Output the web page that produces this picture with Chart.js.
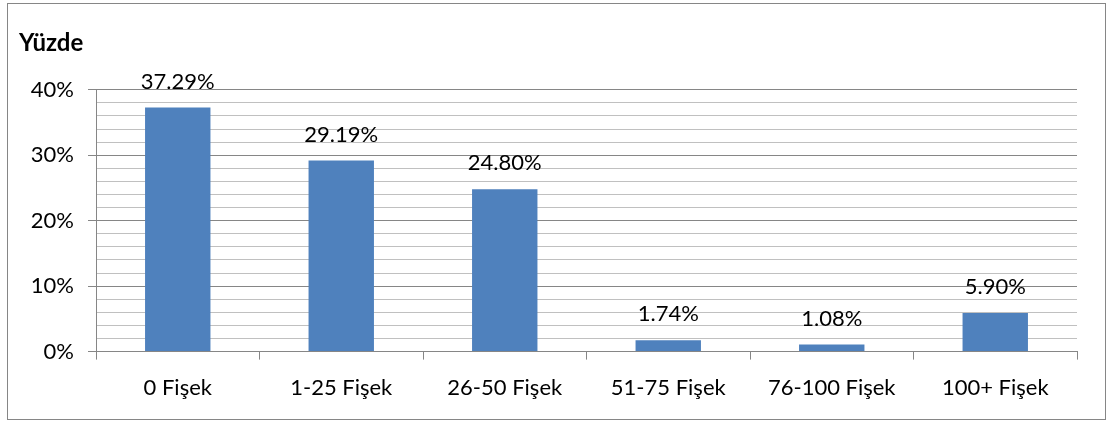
<!DOCTYPE html>
<html>
<head>
<meta charset="utf-8">
<script src="https://cdn.jsdelivr.net/npm/chart.js@4.4.0/dist/chart.umd.min.js"></script>
<style>
    html, body { margin: 0; padding: 0; background: #fff; }
    #box {
        position: absolute; left: 7px; top: 3px;
        width: 1099px; height: 417px;
        box-sizing: border-box;
        border: 1px solid #868686;
    }
</style>
</head>
<body>
<div id="box"><canvas id="myChart"></canvas></div>
<script>
// Data for the bar graph
const categories = ['0 Fişek', '1-25 Fişek', '26-50 Fişek', '51-75 Fişek', '76-100 Fişek', '100+ Fişek'];
const percentages = [37.29, 29.19, 24.80, 1.74, 1.08, 5.90];
const yTicks = [0, 10, 20, 30, 40];

const FONT = 'Lato, "DejaVu Sans", sans-serif';

// draw the value above each bar
const valueLabels = {
    id: 'valueLabels',
    afterDatasetsDraw(chart) {
        const ctx = chart.ctx;
        const meta = chart.getDatasetMeta(0);
        ctx.save();
        ctx.font = '22px ' + FONT;
        ctx.fillStyle = '#000';
        ctx.textAlign = 'center';
        ctx.textBaseline = 'middle';
        meta.data.forEach(function(bar, i) {
            ctx.fillText(percentages[i].toFixed(2) + '%', bar.x, bar.y - 26);
        });
        ctx.restore();
    }
};

const data = {
    labels: categories,
    datasets: [{
        data: percentages,
        backgroundColor: '#4F81BD',
        barPercentage: 0.4,
        categoryPercentage: 1.0
    }]
};

const config = {
    type: 'bar',
    data: data,
    options: {
        responsive: true,
        maintainAspectRatio: false,
        animation: false,
        layout: { padding: { left: 11, right: 28, top: 0, bottom: 3 } },
        plugins: {
            legend: { display: false },
            tooltip: { enabled: false },
            title: {
                display: true,
                text: 'Yüzde',
                align: 'start',
                color: '#000',
                font: { family: FONT, size: 24, weight: 'bold' },
                padding: { top: 25, bottom: 32 }
            }
        },
        scales: {
            x: {
                offset: true,
                border: { color: '#868686', width: 1 },
                grid: {
                    offset: true,
                    drawOnChartArea: false,
                    drawTicks: true,
                    tickLength: 8,
                    color: '#868686'
                },
                ticks: {
                    color: '#000',
                    padding: 15,
                    maxRotation: 0,
                    autoSkip: false,
                    font: { family: FONT, size: 22 }
                }
            },
            y: {
                min: 0,
                max: 40,
                border: { color: '#868686', width: 1 },
                afterFit: function(scale) { scale.width = 77; },
                grid: {
                    tickLength: 8,
                    color: function(c) {
                        return c.tick.value % 10 === 0 ? '#868686' : '#C0C0C0';
                    },
                    tickColor: function(c) {
                        return c.tick.value % 10 === 0 ? '#868686' : 'rgba(0,0,0,0)';
                    }
                },
                ticks: {
                    stepSize: 2,
                    autoSkip: false,
                    padding: 14,
                    color: '#000',
                    font: { family: FONT, size: 22 },
                    callback: function(value) {
                        return yTicks.includes(value) ? value + '%' : '';
                    }
                }
            }
        }
    },
    plugins: [valueLabels]
};

var myChart = new Chart(document.getElementById('myChart'), config);
</script>
</body>
</html>
